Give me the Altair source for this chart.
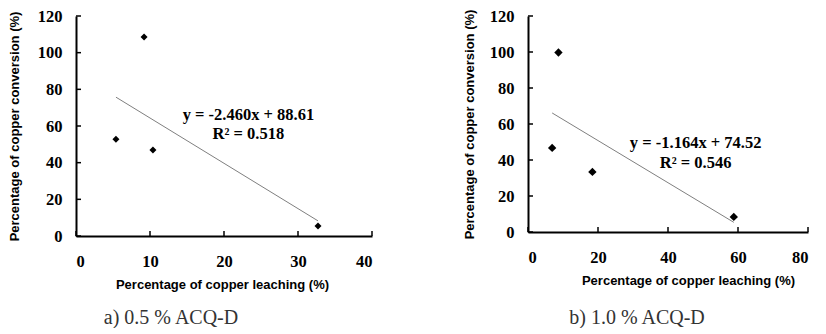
import altair as alt
import pandas as pd

# ---- data ----
a_leach = [5.4, 9.2, 10.4, 32.7]
a_conv = [52.8, 108.6, 46.9, 5.4]
b_leach = [6.9, 8.7, 18.4, 58.8]
b_conv = [46.7, 99.7, 33.4, 8.4]

y_ticks = [0, 20, 40, 60, 80, 100, 120]
a_x_ticks = [0, 10, 20, 30, 40]
b_x_ticks = [0, 20, 40, 60, 80]

a_eq_text = ["y = -2.460x + 88.61", "R\u00b2 = 0.518"]
a_eq_x = [23.3, 23.3]
a_eq_y = [66.0, 55.7]
b_eq_text = ["y = -1.164x + 74.52", "R\u00b2 = 0.546"]
b_eq_x = [47.9, 47.9]
b_eq_y = [49.5, 38.5]

a_caption = "a) 0.5 % ACQ-D"
b_caption = "b) 1.0 % ACQ-D"

X_TITLE = "Percentage of copper leaching (%)"
Y_TITLE = "Percentage of copper conversion (%)"


def panel(leach, conv, xticks, eq_text, eq_x, eq_y, caption, w, h, dx,
          msize, ytp, cap_off, xtitle_x):
    xmax = xticks[-1]
    xs = alt.Scale(domain=[0, xmax], nice=False, zero=True)
    ys = alt.Scale(domain=[0, 120], nice=False, zero=True)
    xax = alt.Axis(values=xticks, ticks=False, grid=False, domainColor="black",
                   domainWidth=2, labelPadding=17, titlePadding=9,
                   titleX=xtitle_x,
                   labelFont="Liberation Serif", labelFontWeight="bold",
                   labelFontSize=16.5, labelColor="black",
                   titleFont="Liberation Sans", titleFontWeight="bold",
                   titleFontSize=13, titleColor="black", format="d")
    yax = alt.Axis(values=y_ticks, ticks=False, grid=False, domainColor="black",
                   domainWidth=2, labelPadding=14, titlePadding=ytp,
                   labelFont="Liberation Serif", labelFontWeight="bold",
                   labelFontSize=16.5, labelColor="black",
                   titleFont="Liberation Sans", titleFontWeight="bold",
                   titleFontSize=13, titleColor="black", format="d")

    def X(f):
        return alt.X(f, type="quantitative", scale=xs, axis=xax, title=X_TITLE)

    def Y(f):
        return alt.Y(f, type="quantitative", scale=ys, axis=yax, title=Y_TITLE)

    df = pd.DataFrame({"x": leach, "y": conv})
    eq = pd.DataFrame({"x": eq_x, "y": eq_y, "t": eq_text})
    yt = pd.DataFrame({"v": y_ticks})
    xt = pd.DataFrame({"v": xticks})

    trend = alt.Chart(df).transform_regression("x", "y").mark_line(
        color="#7f7f7f", strokeWidth=1).encode(x=X("x"), y=Y("y"))
    pts = alt.Chart(df).mark_point(shape="diamond", filled=True, color="black",
                                   opacity=1, size=msize).encode(x=X("x"), y=Y("y"))
    txt = alt.Chart(eq).mark_text(font="Liberation Serif", fontWeight="bold",
                                  fontSize=16.5, color="black").encode(
        x=X("x"), y=Y("y"), text="t:N")
    ytick = alt.Chart(yt).mark_rule(color="black", strokeWidth=1.5).encode(
        y=Y("v"), x=alt.value(0), x2=alt.value(5))
    xtick = alt.Chart(xt).mark_rule(color="black", strokeWidth=1.5).encode(
        x=X("v"), y=alt.value(h), y2=alt.value(h - 5))

    return alt.layer(trend, pts, txt, ytick, xtick).properties(
        width=w, height=h,
        title=alt.TitleParams(caption, orient="bottom", anchor="middle",
                              frame="group", dx=dx, offset=cap_off,
                              font="Liberation Serif", fontSize=20,
                              fontWeight="normal", color="#333333"))


left = panel(a_leach, a_conv, a_x_ticks, a_eq_text, a_eq_x, a_eq_y,
             a_caption, 296, 220, -53, 49, 16, 16, 146)
right = panel(b_leach, b_conv, b_x_ticks, b_eq_text, b_eq_x, b_eq_y,
              b_caption, 280, 216, -31, 70, 13, 20, 160)

chart = alt.hconcat(left, right, spacing=90).properties(padding=0).configure_view(
    stroke=None)

chart.save("out.html", embed_options={"renderer": "svg", "actions": False})
